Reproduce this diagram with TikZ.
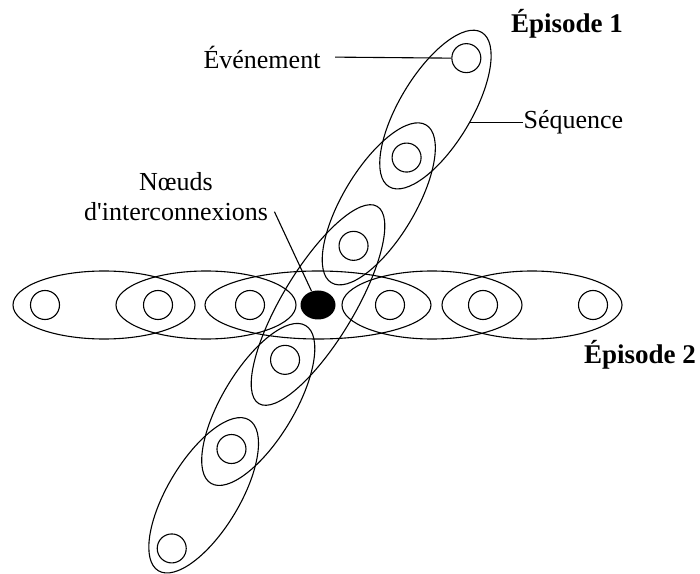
\documentclass[tikz,border=0pt]{standalone}
\usepackage{fontspec}
\setmainfont{Liberation Serif}
\usetikzlibrary{positioning,calc,shapes.geometric}

\tikzset{
  evt/.style={circle,draw,minimum size=29pt,inner sep=0pt},
  hubnode/.style={ellipse,fill=black,minimum width=35pt,minimum height=29pt,inner sep=0pt},
  lbl/.style={font=\fontsize{26}{30}\selectfont,inner sep=0pt},
  epi/.style={font=\fontsize{27}{30}\selectfont\bfseries,inner sep=0pt}
}

\begin{document}
\begin{tikzpicture}[x=1pt,y=1pt,line width=1.1pt]
    \useasboundingbox (0,0) rectangle (700,573);
    \node[hubnode] (hub) at (318,268) {};
    % Episode 2
    \begin{scope}[shift={(318,268)}]
        \foreach \c/\a in {-214/91,-112/90,0/113,114/90,214/90}
            \draw (\c,0) ellipse [x radius=\a, y radius=34];
        \foreach \x/\n in {-273/h1,-160/h2,-68/h3,72/h5,165/h6,275/h7}
            \node[evt] (\n) at (\x,0) {};
    \end{scope}
    % Episode 1
    \begin{scope}[shift={(318,268)},rotate=59]
        \foreach \c/\a in {228/90,118/92,0/115,-116/92,-222/88}
            \draw (\c,0) ellipse [x radius=\a, y radius=36];
        \foreach \x/\n in {288/d1,172/d2,69/d3,-64/d5,-168/d6,-284/d7}
            \node[evt] (\n) at (\x,0) {};
        \coordinate (seqpt) at (235,-36);
    \end{scope}
    % labels
    \node[epi] (ep1) at (567,549) {Épisode 1};
    \node[epi] (ep2) at (640,218) {Épisode 2};
    \node[lbl,anchor=east] (evlbl) at (321,516) {Événement};
    \draw[shorten <=14pt] (evlbl.east) -- (d1.west);
    \node[lbl,anchor=west] (seqlbl) at (seqpt -| 523,0) {Séquence};
    \draw (seqpt) -- (seqlbl.west);
    \node[lbl,align=center] (nlbl) at (176,376) {Nœuds\\d\textquotesingle interconnexions};
    \draw ([xshift=6pt,yshift=10pt]nlbl.south east) -- (hub);
\end{tikzpicture}
\end{document}
